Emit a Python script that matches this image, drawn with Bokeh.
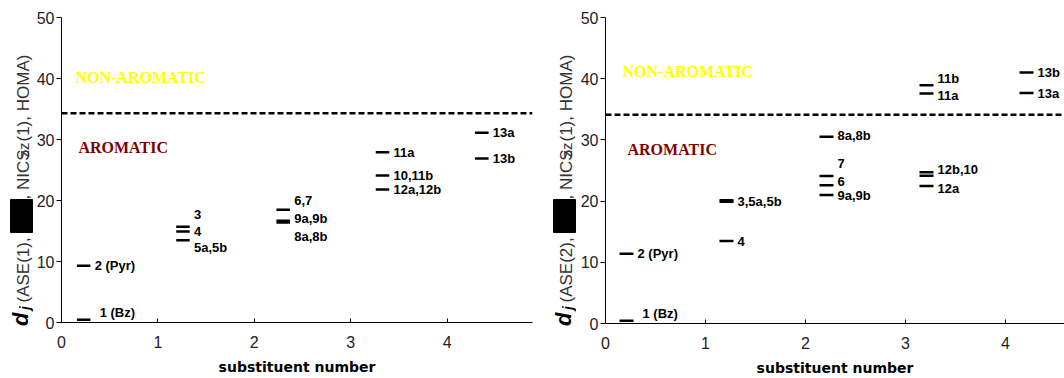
import math
from bokeh.plotting import figure
from bokeh.models import ColumnDataSource, Label, Span, FixedTicker, Range1d
from bokeh.layouts import row
from bokeh.embed import file_html
from bokeh.resources import INLINE
from bokeh.core.properties import value

# ---------------- data: left panel (ASE(1)) ----------------
left_bar_x = [0.23, 0.23, 1.26, 1.26, 1.26, 2.30, 2.30, 2.30, 3.33, 3.33, 3.33, 4.36, 4.36]
left_bar_y = [0.45, 9.3, 15.7, 14.9, 13.5, 18.5, 16.7, 16.4, 27.9, 24.1, 21.8, 31.1, 26.9]
left_labels = ["1 (Bz)", "2 (Pyr)", "3", "4", "5a,5b", "6,7", "9a,9b", "8a,8b",
               "11a", "10,11b", "12a,12b", "13a", "13b"]
left_label_x = [0.23, 0.23, 1.26, 1.26, 1.26, 2.30, 2.30, 2.30, 3.33, 3.33, 3.33, 4.36, 4.36]
left_label_y = [1.64, 9.3, 17.7, 14.9, 12.3, 20.0, 17.0, 14.1, 27.9, 24.1, 21.8, 31.1, 26.9]
left_threshold = 34.3

# ---------------- data: right panel (ASE(2)) ----------------
right_bar_x = [0.21, 0.21, 1.21, 1.21, 1.21, 2.21, 2.21, 2.21, 2.21,
               3.21, 3.21, 3.21, 3.21, 3.21, 4.21, 4.21]
right_bar_y = [0.44, 11.4, 20.15, 19.9, 13.5, 30.5, 24.1, 22.6, 21.0,
               38.95, 37.6, 24.7, 24.15, 22.45, 41.0, 37.65]
right_labels = ["1 (Bz)", "2 (Pyr)", "3,5a,5b", "4", "8a,8b", "7", "6", "9a,9b",
                "11b", "11a", "12b,10", "12a", "13b", "13a"]
right_label_x = [0.21, 0.21, 1.21, 1.21, 2.21, 2.21, 2.21, 2.21,
                 3.21, 3.21, 3.21, 3.21, 4.21, 4.21]
right_label_y = [1.63, 11.4, 20.0, 13.35, 30.8, 26.1, 23.15, 20.9,
                 40.1, 37.2, 25.2, 22.05, 41.0, 37.65]
right_threshold = 34.1

x_ticks = [0, 1, 2, 3, 4]
y_ticks = [0, 10, 20, 30, 40, 50]
x_title = "substituent number"

H = 378


def make_title_strip(width, shift, ase_text):
    """Narrow strip holding the rotated, mixed-style y-axis title."""
    s = figure(frame_width=width, frame_height=H, title=None,
               x_range=Range1d(0, width), y_range=Range1d(0, H),
               output_backend="svg", toolbar_location=None,
               x_axis_type=None, y_axis_type=None,
               min_border_left=0, min_border_right=0,
               min_border_top=0, min_border_bottom=0)
    s.outline_line_color = None
    s.grid.visible = False
    # redaction box
    s.quad(left=10 + shift, right=32 + shift, bottom=H - 215, top=H - 182,
           fill_color="black", line_color="black")
    # (text, start pixel row, size, style, colour, descent-edge column)
    pieces = [
        ("d", 308.5, "22px", "bold italic", "black", 32.8),
        ("j", 292.5, "14px", "bold italic", "black", 32.5),
        (ase_text, 285.0, "17px", "normal", "#333333", 32.8),
        (", NICS", 182.0, "17px", "normal", "#333333", 32.8),
        ("zz", 140.0, "15px", "normal", "#333333", 31.5),
        ("(1), HOMA)", 124.0, "17px", "normal", "#333333", 32.8),
    ]
    for t, py, fs, st, col, bx in pieces:
        s.text(x=[bx + shift], y=[H - py], text=[t], angle=math.pi / 2,
               text_font=value("Liberation Sans"), text_font_style=st,
               text_font_size=fs, text_color=col,
               text_align="left", text_baseline="bottom")
    return s


def make_panel(bar_x, bar_y, labels, lab_x, lab_y, threshold,
               frame_w, frame_h, xmax, b_left, b_right, b_top,
               non_pos, aro_pos):
    p = figure(frame_width=frame_w, frame_height=frame_h, title=None,
               x_range=Range1d(0, xmax), y_range=Range1d(0, 50),
               output_backend="svg", toolbar_location=None,
               min_border_left=b_left, min_border_right=b_right,
               min_border_top=b_top, min_border_bottom=H - b_top - frame_h,
               background_fill_color="white", border_fill_color="white")
    p.outline_line_color = None
    p.grid.visible = False

    # axes
    p.xaxis.ticker = FixedTicker(ticks=x_ticks)
    p.yaxis.ticker = FixedTicker(ticks=y_ticks)
    for ax in (p.xaxis[0], p.yaxis[0]):
        ax.axis_line_color = "black"
        ax.axis_line_width = 1
        ax.major_tick_line_color = "black"
        ax.minor_tick_line_color = None
        ax.major_label_text_font = "Liberation Sans"
        ax.major_label_text_font_size = "16px"
        ax.major_label_text_color = "#222222"
    p.xaxis.major_tick_in = 4
    p.xaxis.major_tick_out = 0
    p.xaxis.major_label_standoff = 13
    p.yaxis.major_tick_in = 0
    p.yaxis.major_tick_out = 5
    p.yaxis.major_label_standoff = 2
    p.xaxis.axis_label = x_title
    p.xaxis.axis_label_text_font = "DejaVu Sans"
    p.xaxis.axis_label_text_font_style = "bold"
    p.xaxis.axis_label_text_font_size = "14px"
    p.xaxis.axis_label_text_color = "black"
    p.xaxis.axis_label_standoff = 8

    # threshold line
    p.add_layout(Span(location=threshold, dimension="width", line_color="black",
                      line_width=2.5, line_dash="6 3"))

    # bars
    half = 0.07
    src = ColumnDataSource(dict(x0=[v - half for v in bar_x],
                                x1=[v + half for v in bar_x], y=bar_y))
    p.segment(x0="x0", y0="y", x1="x1", y1="y", source=src,
              line_color="black", line_width=2.5)

    # labels
    dx = [16 if t.startswith("1 (") else 11 for t in labels]
    lsrc = ColumnDataSource(dict(x=lab_x, y=lab_y, t=labels, dx=dx))
    p.text(x="x", y="y", text="t", x_offset="dx", source=lsrc,
           text_font=value("Liberation Sans"), text_font_style="bold",
           text_font_size="13px", text_baseline="middle", text_align="left",
           text_color="black")

    # region texts
    p.add_layout(Label(x=non_pos[0], y=non_pos[1], text="NON-AROMATIC",
                       text_font="Liberation Serif", text_font_style="bold",
                       text_font_size="16px", text_color="#FFFF00",
                       text_baseline="middle", text_align="left"))
    p.add_layout(Label(x=aro_pos[0], y=aro_pos[1], text="AROMATIC",
                       text_font="Liberation Serif", text_font_style="bold",
                       text_font_size="16px", text_color="#800000",
                       text_baseline="middle", text_align="left"))
    return p


s1 = make_title_strip(33, 0, "(ASE(1), ")
p1 = make_panel(left_bar_x, left_bar_y, left_labels, left_label_x, left_label_y,
                left_threshold, 471, 305, 4.886, 28, 8, 17,
                (0.145, 40.2), (0.176, 28.7))
s2 = make_title_strip(36, 3, "(ASE(2), ")
p2 = make_panel(right_bar_x, right_bar_y, right_labels, right_label_x, right_label_y,
                right_threshold, 459, 306, 4.59, 29, 0, 16,
                (0.17, 41.1), (0.22, 28.4))

layout = row(s1, p1, s2, p2)
open("out.html", "w").write(file_html(layout, INLINE))
